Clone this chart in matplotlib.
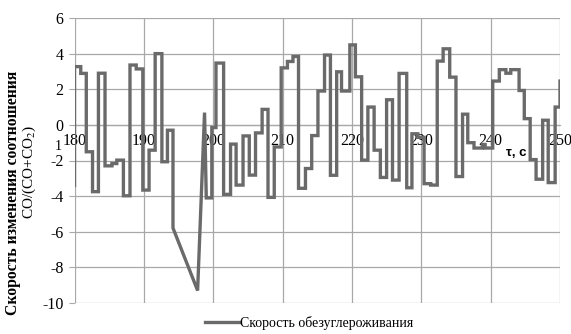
import matplotlib
matplotlib.use("Agg")
import matplotlib.pyplot as plt

# Vertices of the decarburisation-rate curve (time, rate)
time_s = [180.0, 180.0, 180.9, 180.9, 181.7, 181.7, 182.6, 182.6, 183.45, 183.45,
          184.4, 184.4, 185.4, 185.4, 186.1, 186.1, 187.05, 187.05, 188.0, 188.0,
          188.9, 188.9, 189.85, 189.85, 190.75, 190.75, 191.63, 191.63, 192.6, 192.6,
          193.4, 193.4, 194.2, 194.2, 197.75, 198.75, 199.0, 199.8, 199.8, 200.4,
          200.4, 201.5, 201.5, 202.5, 202.5, 203.3, 203.3, 204.3, 204.3, 205.2,
          205.2, 206.1, 206.1, 207.05, 207.05, 207.9, 207.9, 208.8, 208.8, 209.8,
          209.8, 210.7, 210.7, 211.5, 211.5, 212.3, 212.3, 213.3, 213.3, 214.2,
          214.2, 215.1, 215.1, 216.05, 216.05, 216.9, 216.9, 217.8, 217.8, 218.5,
          218.5, 219.7, 219.7, 220.5, 220.5, 221.4, 221.4, 222.3, 222.3, 223.2,
          223.2, 224.1, 224.1, 225.0, 225.0, 225.85, 225.85, 226.8, 226.8, 227.9,
          227.9, 228.65, 228.65, 229.5, 229.5, 230.4, 230.4, 231.35, 231.35, 232.3,
          232.3, 233.15, 233.15, 234.1, 234.1, 235.0, 235.0, 235.95, 235.95, 236.7,
          236.7, 237.6, 237.6, 238.8, 238.8, 239.2, 239.2, 240.3, 240.3, 241.25,
          241.25, 242.2, 242.2, 242.9, 242.9, 244.1, 244.1, 244.85, 244.85, 245.7,
          245.7, 246.55, 246.55, 247.5, 247.5, 248.3, 248.3, 249.3, 249.3, 250.0,
          250.0]
rate = [-3.4, 3.27, 3.27, 2.89, 2.89, -1.51, -1.51, -3.75, -3.75, 2.9,
        2.9, -2.3, -2.3, -2.17, -2.17, -1.98, -1.98, -3.98, -3.98, 3.36,
        3.36, 3.14, 3.14, -3.66, -3.66, -1.42, -1.42, 4.0, 4.0, -2.07,
        -2.07, -0.3, -0.3, -5.79, -9.3, 0.69, -4.1, -4.1, -0.15, -0.15,
        3.47, 3.47, -3.9, -3.9, -1.08, -1.08, -3.38, -3.38, -0.62, -0.62,
        -2.82, -2.82, -0.45, -0.45, 0.87, 0.87, -4.07, -4.07, -1.24, -1.24,
        3.2, 3.2, 3.56, 3.56, 3.84, 3.84, -3.56, -3.56, -2.45, -2.45,
        -0.6, -0.6, 1.9, 1.9, 3.92, 3.92, -2.83, -2.83, 2.98, 2.98,
        1.9, 1.9, 4.49, 4.49, 2.7, 2.7, -1.98, -1.98, 1.0, 1.0,
        -1.42, -1.42, -2.95, -2.95, 1.41, 1.41, -3.1, -3.1, 2.89, 2.89,
        -3.53, -3.53, -0.5, -0.5, -0.7, -0.7, -3.3, -3.3, -3.38, -3.38,
        3.58, 3.58, 4.27, 4.27, 2.68, 2.68, -2.9, -2.9, 0.6, 0.6,
        -1.0, -1.0, -1.3, -1.3, -1.1, -1.1, -1.3, -1.3, 2.46, 2.46,
        3.1, 3.1, 2.9, 2.9, 3.1, 3.1, 1.93, 1.93, 0.35, 0.35,
        -1.95, -1.95, -3.05, -3.05, 0.26, 0.26, -3.24, -3.24, 1.0, 1.0,
        2.46]

x_ticks = [180, 190, 200, 210, 220, 230, 240, 250]
y_ticks = [-10, -8, -6, -4, -2, 0, 2, 4, 6]

series_label = "Скорость обезуглероживания"
ylabel_line1 = "Скорость изменения соотношения"
ylabel_line2 = "CO/(CO+CO$_2$)"
xlabel = "τ, с"

plt.rcParams['font.family'] = ['Liberation Serif', 'DejaVu Serif']
plt.rcParams['mathtext.fontset'] = 'stix'

W, H = 571, 334
fig = plt.figure(figsize=(W / 100, H / 100), dpi=100)
ax = fig.add_axes([74.5 / W, 1 - 303 / H, (560 - 74.5) / W, (303 - 18) / H])

grid_c = '#a8a8a8'
line_c = '#6a6a6a'

ax.plot(time_s, rate, color=line_c, lw=2.4, solid_joinstyle='miter',
        label=series_label, zorder=3)

ax.set_xlim(180, 250)
ax.set_ylim(-10, 6)
ax.set_xticks(x_ticks)
ax.set_yticks(y_ticks)
ax.set_xticklabels([str(v) for v in x_ticks])
ax.set_yticklabels([str(v) for v in y_ticks])
ax.grid(True, color=grid_c, lw=0.9, zorder=0)

for s in ['top', 'right', 'left']:
    ax.spines[s].set_visible(False)
ax.spines['bottom'].set_position(('data', 0))
ax.spines['bottom'].set_color(grid_c)
ax.spines['bottom'].set_linewidth(0.9)

ax.tick_params(axis='x', length=0, pad=6, labelsize=11.5, colors='black')
ax.tick_params(axis='y', length=4, width=0.8, color=grid_c, pad=4, labelsize=11.5)

fig.text(516 / W, 1 - 153 / H, xlabel, ha='center', va='center', fontsize=9.5,
         fontweight='bold', family=['Liberation Sans', 'DejaVu Sans'])

fig.text(13 / W, 1 - 193 / H, ylabel_line1, rotation=90, ha='center', va='center',
         fontsize=11.3, fontweight='bold')
fig.text(29 / W, 1 - 172 / H, ylabel_line2, rotation=90, ha='center', va='center',
         fontsize=11)
fig.text(58 / W, 1 - 146 / H, "1", ha='center', va='center', fontsize=10)

leg = fig.legend(loc='center', bbox_to_anchor=(309 / W, 1 - 323 / H), frameon=False,
                 fontsize=10, handlelength=2.5, handletextpad=0.0, borderpad=0)

fig.savefig("out.png", dpi=100)
